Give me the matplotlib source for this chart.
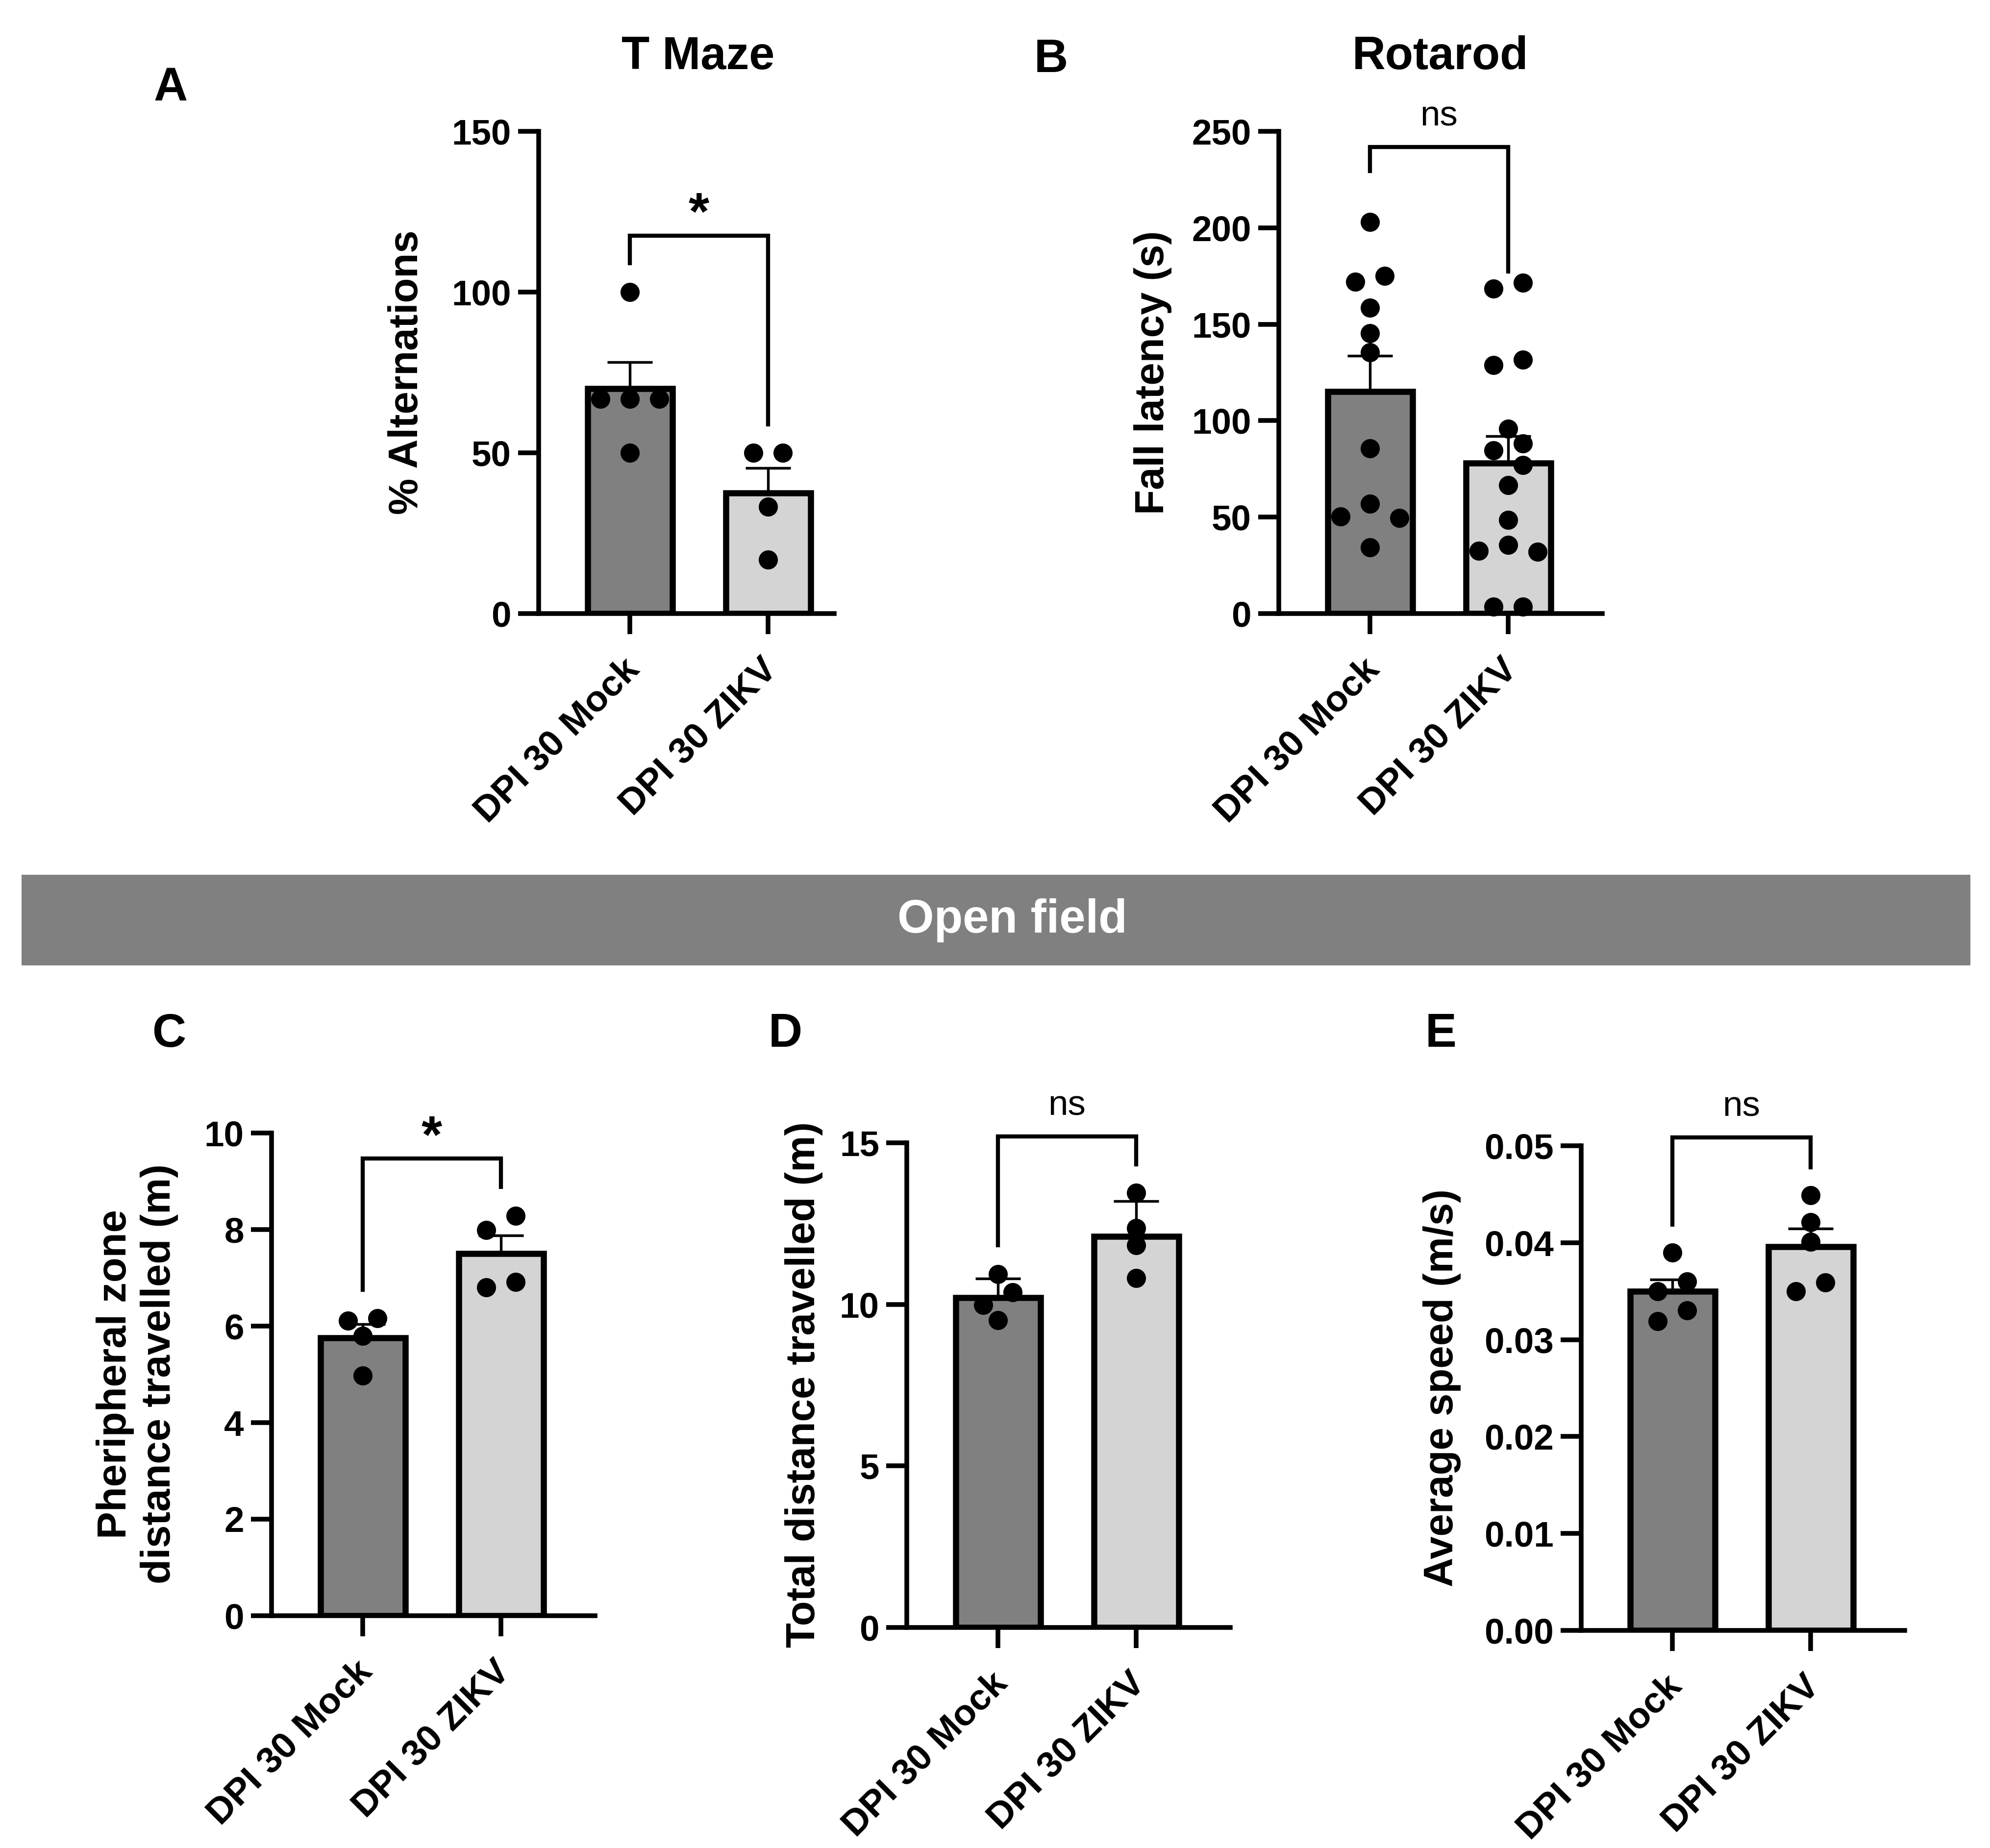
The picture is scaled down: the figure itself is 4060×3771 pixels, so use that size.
import matplotlib
matplotlib.use("Agg")
import matplotlib.pyplot as plt
import matplotlib.transforms as mtransforms
from matplotlib.patches import Rectangle
from matplotlib.ticker import FormatStrFormatter

plt.rcParams["font.family"] = ["Liberation Sans", "DejaVu Sans"]
plt.rcParams["font.weight"] = "bold"

# ---- data --------------------------------------------------------------
groups = ["DPI 30 Mock", "DPI 30 ZIKV"]

# A  T maze, % alternations
tmaze_mock = [100, 66.7, 66.7, 66.7, 50]
tmaze_zikv = [50, 50, 33.3, 16.7]
tmaze_mean = [70.0, 37.5]
tmaze_err = [8.2, 7.8]

# B  rotarod, fall latency (s)
rotarod_mock = [203, 175, 172, 158.6, 145.4, 135.4, 85.5, 57, 50.2, 49.5, 34.2]
rotarod_zikv = [171.6, 168.4, 131.5, 128.7, 95.9, 88.2, 84.6, 77, 66.5,
                48.5, 35.6, 32.4, 32.1, 3.6, 3.6]
rotarod_mean = [115.1, 77.9]
rotarod_err = [18.5, 14.0]

# C  peripheral zone distance (m)
periph_mock = [6.16, 6.11, 5.80, 4.97]
periph_zikv = [8.28, 7.99, 6.91, 6.80]
periph_mean = [5.76, 7.50]
periph_err = [0.28, 0.38]

# D  total distance (m)
total_mock = [10.94, 10.38, 9.98, 9.51]
total_zikv = [13.46, 12.36, 11.83, 10.81]
total_mean = [10.20, 12.10]
total_err = [0.60, 1.10]

# E  average speed (m/s)
speed_mock = [0.0390, 0.0360, 0.0350, 0.0330, 0.0319]
speed_zikv = [0.0449, 0.0421, 0.0401, 0.0359, 0.0350]
speed_mean = [0.0350, 0.0396]
speed_err = [0.00122, 0.00187]

# significance brackets: (bar height, left leg end, right leg end), label
tmaze_sig = ((117.6, 109, 58.8), "*")
rotarod_sig = ((241.8, 229.5, 177.3), "ns")
periph_sig = ((9.47, 6.75, 8.88), "*")
total_sig = ((15.2, 11.83, 14.33), "ns")
speed_sig = ((0.05085, 0.04187, 0.0478), "ns")

# ---- layout --------------------------------------------------------------
W, H, DPI = 4060, 3771, 300
UNIT = 282            # pixels between the two bars
XMIN = -0.66
MOCK_C = "#808080"
ZIKV_C = "#d4d4d4"

fig = plt.figure(figsize=(W / DPI, H / DPI), dpi=DPI)


def add_panel(left, top, bottom, xmax):
    width = (xmax - XMIN) * UNIT
    ax = fig.add_axes([left / W, 1 - bottom / H, width / W, (bottom - top) / H])
    ax.set_xlim(XMIN, xmax)
    return ax


def swarm_x(ax, values, centre, step_px=60, thr_px=30):
    """GraphPad-like scatter: points that would touch are pushed sideways."""
    ys = [ax.transData.transform((0, v))[1] for v in values]
    px_per_x = ax.transData.transform((1, 0))[0] - ax.transData.transform((0, 0))[0]
    n = len(values)
    col = {}
    for i in sorted(range(n), key=lambda i: -values[i]):
        for k in (0, -1, 1, -2, 2, -3, 3):
            if all(col[j] != k or abs(ys[i] - ys[j]) >= thr_px for j in col):
                col[i] = k
                break
    parent = list(range(n))

    def find(i):
        while parent[i] != i:
            i = parent[i]
        return i

    for i in range(n):
        for j in range(i + 1, n):
            if abs(ys[i] - ys[j]) < thr_px:
                parent[find(i)] = find(j)
    xs = []
    for i in range(n):
        ks = [col[j] for j in range(n) if find(j) == find(i)]
        off = col[i] - (min(ks) + max(ks)) / 2
        xs.append(centre + off * step_px / px_per_x)
    return xs


def draw_panel(ax, mock, zikv, means, errs, yticks, sig, fmt=None):
    ax.set_ylim(yticks[0], yticks[-1])
    ax.set_yticks(yticks)
    if fmt:
        ax.yaxis.set_major_formatter(FormatStrFormatter(fmt))

    ax.errorbar([0, 1], means, yerr=[[0, 0], errs], fmt="none", ecolor="black",
                elinewidth=1.3, capsize=11, capthick=1.3, zorder=1)
    ax.bar([0, 1], means, width=0.613, color=[MOCK_C, ZIKV_C],
           edgecolor="black", linewidth=3, zorder=2)
    for pos, vals in ((0, mock), (1, zikv)):
        ax.scatter(swarm_x(ax, vals, pos), vals, s=88, color="black",
                   linewidths=0, zorder=3, clip_on=False)

    (yb, yl, yr), mark = sig
    ax.plot([0, 0, 1, 1], [yl, yb, yb, yr], color="black", lw=2,
            solid_joinstyle="miter", clip_on=False)
    if mark == "ns":
        ax.annotate(mark, xy=(0.5, yb), xytext=(0, 10.5), textcoords="offset points",
                    ha="center", va="baseline", fontsize=17.5, fontweight="normal",
                    annotation_clip=False)
    else:
        ax.annotate(mark, xy=(0.5, yb), xytext=(0, 3), textcoords="offset points",
                    ha="center", va="baseline", fontsize=26, fontweight="bold",
                    annotation_clip=False)

    for side in ("top", "right"):
        ax.spines[side].set_visible(False)
    for side in ("left", "bottom"):
        ax.spines[side].set_linewidth(2.3)
    ax.tick_params(axis="both", width=2.3, length=10, direction="out")
    ax.tick_params(axis="y", labelsize=17.5)
    ax.set_xticks([0, 1])
    ax.set_xticklabels(groups, rotation=45, ha="right", va="top",
                       rotation_mode="anchor", fontsize=18, fontweight="bold")
    ax.tick_params(axis="x", pad=9)
    shift = mtransforms.ScaledTranslation(-4 / 72, 0, fig.dpi_scale_trans)
    for lab in ax.get_xticklabels():
        lab.set_transform(lab.get_transform() + shift)
    for lab in ax.get_yticklabels():
        lab.set_fontweight("bold")


def fig_text(x, y, s, **kw):
    fig.text(x / W, 1 - y / H, s, ha="center", va="center", **kw)


ax_a = add_panel(1099, 268, 1252, 1.48)
draw_panel(ax_a, tmaze_mock, tmaze_zikv, tmaze_mean, tmaze_err,
           [0, 50, 100, 150], tmaze_sig)

ax_b = add_panel(2609, 268, 1252, 1.68)
draw_panel(ax_b, rotarod_mock, rotarod_zikv, rotarod_mean, rotarod_err,
           [0, 50, 100, 150, 200, 250], rotarod_sig)

ax_c = add_panel(554, 2312, 3297, 1.68)
draw_panel(ax_c, periph_mock, periph_zikv, periph_mean, periph_err,
           [0, 2, 4, 6, 8, 10], periph_sig)

ax_d = add_panel(1850, 2332, 3321, 1.68)
draw_panel(ax_d, total_mock, total_zikv, total_mean, total_err,
           [0, 5, 10, 15], total_sig)

ax_e = add_panel(3226, 2338, 3327, 1.68)
draw_panel(ax_e, speed_mock, speed_zikv, speed_mean, speed_err,
           [0.0, 0.01, 0.02, 0.03, 0.04, 0.05], speed_sig, fmt="%.2f")

# titles, panel letters, y labels
fig_text(1424, 116, "T Maze", fontsize=22.5, fontweight="bold")
fig_text(2938, 117, "Rotarod", fontsize=22.5, fontweight="bold")
for letter, x, y in (("A", 348, 180), ("B", 2144, 122), ("C", 345, 2111),
                     ("D", 1602, 2111), ("E", 2940, 2111)):
    fig_text(x, y, letter, fontsize=23, fontweight="bold")

for label, x, y in (("% Alternations", 830, 760),
                    ("Fall latency (s)", 2352, 760),
                    ("Pheripheral zone\ndistance travelled (m)", 280, 2804),
                    ("Total distance travelled (m)", 1640, 2826),
                    ("Average speed (m/s)", 2942, 2832)):
    fig_text(x, y, label, rotation=90, fontsize=20, fontweight="bold")

# "Open field" banner
fig.add_artist(Rectangle((44 / W, 1 - 1970 / H), (4020 - 44) / W, 185 / H,
                         transform=fig.transFigure, facecolor="#808080",
                         edgecolor="none", zorder=0))
fig_text(2065, 1878, "Open field", fontsize=23, fontweight="bold", color="white")

fig.savefig("out.png", dpi=DPI, facecolor="white")
plt.close(fig)
